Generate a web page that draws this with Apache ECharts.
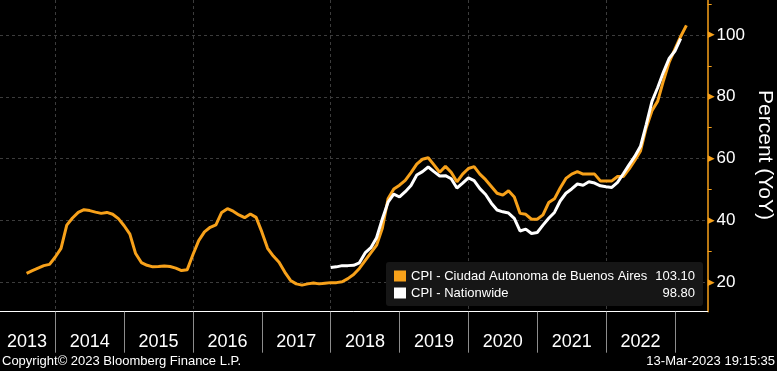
<!DOCTYPE html>
<html>
<head>
<meta charset="utf-8">
<script src="https://cdn.jsdelivr.net/npm/echarts@6/dist/echarts.min.js"></script>
<style>
html,body{margin:0;padding:0;background:#000;}
#chart{width:777px;height:371px;}
</style>
</head>
<body>
<div id="chart"></div>
<script>
// ---- data ----
const cabaName = 'CPI - Ciudad Autonoma de Buenos Aires';
const natName = 'CPI - Nationwide';
const cabaStart = [2013, 7];   // first month (year, month)
const natStart = [2017, 12];
const cabaValues = [
  22.9, 23.8, 24.6, 25.4, 25.8, 28.2,
  31.0, 38.5, 40.8, 42.6, 43.5, 43.2, 42.7, 42.3, 42.6, 42.0, 40.6, 38.3,
  35.6, 29.3, 26.4, 25.5, 25.0, 25.1, 25.3, 25.1, 24.6, 23.8, 24.1, 29.0,
  33.5, 36.3, 37.8, 38.6, 42.6, 43.8, 43.0, 41.8, 40.9, 42.1, 41.0, 36.3,
  31.0, 28.5, 26.5, 23.3, 20.6, 19.5, 19.1, 19.5, 19.8, 19.5, 19.7, 19.9,
  19.9, 20.2, 21.2, 22.5, 24.5, 27.0, 29.5, 32.0, 37.5, 47.0, 50.2, 51.4,
  53.0, 55.5, 58.2, 59.8, 60.3, 58.0, 55.6, 57.5, 55.6, 52.5, 55.0, 56.8,
  57.4, 55.0, 53.2, 51.0, 48.8, 48.2, 49.6, 47.6, 42.3, 42.0, 40.4, 40.4,
  41.8, 45.8, 47.0, 50.5, 53.6, 55.0, 55.8, 55.0, 55.0, 55.0, 52.8, 52.8,
  52.8, 54.2, 54.2, 56.6, 59.4, 62.5, 70.0, 75.5, 78.6, 85.2, 91.2, 95.4,
  99.5, 103.1
];
const natValues = [
  24.8,
  25.0, 25.4, 25.4, 25.5, 26.3, 29.5, 31.2, 34.4, 40.5, 45.9, 48.5, 47.6,
  49.3, 51.3, 54.7, 55.8, 57.3, 55.8, 54.4, 54.5, 53.5, 50.5, 52.1, 53.8,
  52.9, 50.3, 48.4, 45.6, 43.4, 42.8, 42.4, 40.7, 36.6, 37.2, 35.8, 36.1,
  38.5, 40.7, 42.6, 46.3, 48.8, 50.2, 51.8, 51.4, 52.5, 52.1, 51.2, 50.9,
  50.7, 52.3, 55.1, 58.0, 60.7, 64.0, 71.0, 78.5, 83.0, 88.0, 92.4, 94.8,
  98.8
];
const yearTicks = [2014, 2015, 2016, 2017, 2018, 2019, 2020, 2021, 2022, 2023];
const yearGridlines = [2014, 2016, 2018, 2020, 2022];
const yMajorTicks = [20, 40, 60, 80, 100];
const yMinorTicks = [30, 50, 70, 90, 110];

// ---- helpers ----
function toPoints(start, values) {
  return values.map(function (v, i) {
    const idx = start[0] * 12 + (start[1] - 1) + i;
    const y = Math.floor(idx / 12), m = idx % 12;
    return [y + (m + 1) / 12, v];   // plotted at month end
  });
}
const FONT = "'Liberation Sans', Arial, sans-serif";
const ORANGE = '#F7A11A';
const X_MIN = 2013.197, X_MAX = 2023.476;
const Y_MIN = 10.5, Y_MAX = 111.3;
// label anchor positions for the year band (first one clipped to plot start)
const yearLabelPos = [2013.59].concat(yearTicks.slice(0, 9).map(function (y) { return y + 0.5; }));
const lastVals = {};
lastVals[cabaName] = cabaValues[cabaValues.length - 1].toFixed(2);
lastVals[natName] = natValues[natValues.length - 1].toFixed(2);

const chart = echarts.init(document.getElementById('chart'), null, {renderer: 'canvas'});
chart.setOption({
  backgroundColor: '#000',
  animation: false,
  grid: {left: 0, right: 69.3, top: 0, bottom: 59.3, containLabel: false, outerBoundsMode: 'none'},
  xAxis: [
    {
      type: 'value', min: X_MIN, max: X_MAX, position: 'bottom',
      axisLine: {show: true, onZero: false, lineStyle: {color: '#ffffff', width: 1}},
      axisTick: {show: true, customValues: yearTicks, length: 41, lineStyle: {color: '#8c8c8c', width: 1}},
      axisLabel: {
        show: true, customValues: yearLabelPos, margin: 21,
        formatter: function (v) { return String(Math.floor(v)); },
        color: '#ffffff', fontSize: 18, fontFamily: FONT, lineHeight: 18
      },
      splitLine: {show: false}
    },
    {
      type: 'value', min: X_MIN, max: X_MAX, position: 'bottom',
      axisLine: {show: false},
      axisTick: {show: false, customValues: yearGridlines},
      axisLabel: {show: false},
      splitLine: {show: true, lineStyle: {color: '#3c3c3c', width: 1, type: [3, 3]}}
    }
  ],
  yAxis: [
    {
      type: 'value', position: 'right', min: Y_MIN, max: Y_MAX,
      axisLine: {show: true, onZero: false, lineStyle: {color: ORANGE, width: 1.5}},
      axisTick: {show: false, customValues: yMajorTicks},
      axisLabel: {
        show: true, customValues: yMajorTicks, margin: 0,
        formatter: function (v) { return '{a|\u25B6}{b|' + v + '}'; },
        rich: {
          a: {color: ORANGE, fontSize: 9, fontFamily: 'DejaVu Sans', padding: [0, 2, 0, 0]},
          b: {color: '#ffffff', fontSize: 17, fontFamily: FONT}
        }
      },
      splitLine: {show: true, lineStyle: {color: '#3c3c3c', width: 1, type: [3, 3]}}
    },
    {
      type: 'value', position: 'right', min: Y_MIN, max: Y_MAX,
      axisLine: {show: false, onZero: false},
      axisTick: {show: true, customValues: yMinorTicks, length: 4, lineStyle: {color: ORANGE, width: 1}},
      axisLabel: {show: false},
      splitLine: {show: false}
    }
  ],
  legend: {
    left: 386, top: 262, orient: 'vertical',
    backgroundColor: '#161616', borderRadius: 3,
    padding: [7, 8, 6, 8], itemGap: 3,
    itemWidth: 12, itemHeight: 11, icon: 'rect',
    selectedMode: false,
    data: [cabaName, natName],
    formatter: function (name) { return '{n|' + name + '}{v|' + lastVals[name] + '}'; },
    textStyle: {
      color: '#ffffff', fontFamily: FONT, fontSize: 13, lineHeight: 14,
      rich: {
        n: {width: 238, color: '#ffffff', fontFamily: FONT, fontSize: 13},
        v: {width: 46, align: 'right', color: '#ffffff', fontFamily: FONT, fontSize: 13}
      }
    }
  },
  graphic: [
    {type: 'text', left: 2, top: 355, style: {text: 'Copyright\u00A9 2023 Bloomberg Finance L.P.', fill: '#ffffff', font: '13px ' + FONT}},
    {type: 'text', right: 2, top: 355, style: {text: '13-Mar-2023 19:15:35', fill: '#ffffff', font: '13px ' + FONT}},
    {type: 'text', x: 765, y: 155, rotation: -Math.PI / 2,
      style: {text: 'Percent (YoY)', fill: '#ffffff', font: '21px ' + FONT, align: 'center', verticalAlign: 'middle'}}
  ],
  series: [
    {
      type: 'line', name: cabaName, data: toPoints(cabaStart, cabaValues),
      xAxisIndex: 0, yAxisIndex: 0, showSymbol: false, symbol: 'none', z: 2,
      lineStyle: {color: ORANGE, width: 3}, itemStyle: {color: ORANGE}
    },
    {
      type: 'line', name: natName, data: toPoints(natStart, natValues),
      xAxisIndex: 0, yAxisIndex: 0, showSymbol: false, symbol: 'none', z: 3,
      lineStyle: {color: '#ffffff', width: 3}, itemStyle: {color: '#ffffff'}
    }
  ]
});
</script>
</body>
</html>
